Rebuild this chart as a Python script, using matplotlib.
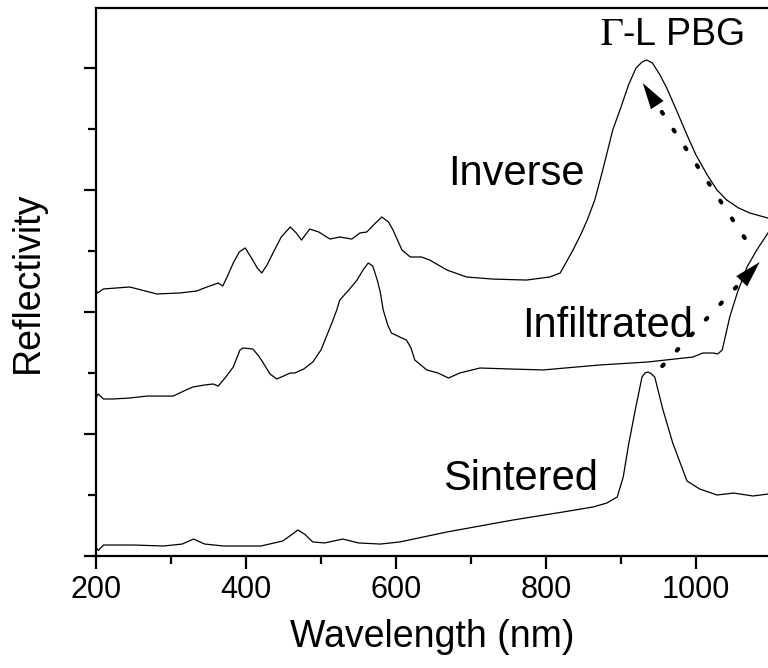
import matplotlib

matplotlib.use("Agg")
import matplotlib.pyplot as plt
from matplotlib.ticker import MultipleLocator

# spectra (wavelength in nm, reflectivity in arb. units)
sintered_nm = [200, 203, 210, 250, 290, 315, 330, 345, 370, 420, 449, 462, 469,
               478, 489, 505, 529, 550, 579, 605, 668, 756, 823, 863, 881, 895,
               903, 910, 919, 928, 932, 936, 940, 945, 956, 969, 988, 1005,
               1028, 1050, 1076, 1096]
sintered_r = [0.74, 0.45, 0.90, 0.90, 0.82, 0.98, 1.39, 0.98, 0.82, 0.82, 1.23,
              1.80, 2.13, 1.80, 1.15, 1.07, 1.39, 1.07, 0.98, 1.15, 1.97, 2.95,
              3.61, 4.02, 4.34, 4.84, 6.48, 9.10, 11.97, 14.67, 15.00, 15.08,
              14.95, 14.67, 11.97, 9.26, 6.15, 5.49, 5.00, 5.16, 4.92, 5.08]

infiltrated_nm = [200, 203, 210, 223, 245, 268, 303, 320, 329, 345, 356, 363,
                  373, 383, 392, 396, 409, 417, 423, 432, 441, 450, 459, 465,
                  477, 489, 500, 508, 515, 521, 525, 537, 548, 556, 563, 569,
                  575, 579, 583, 589, 594, 605, 614, 620, 625, 641, 656, 670,
                  685, 712, 752, 796, 872, 935, 996, 1009, 1023, 1029, 1035,
                  1045, 1055, 1068, 1081, 1096]
infiltrated_r = [12.95, 13.28, 12.87, 12.87, 12.95, 13.11, 13.11, 13.61, 13.85,
                 14.02, 14.10, 13.93, 14.67, 15.49, 16.89, 17.05, 16.97, 16.39,
                 15.82, 14.92, 14.51, 14.75, 15.00, 15.00, 15.33, 15.90, 16.89,
                 18.11, 19.18, 20.16, 20.98, 21.80, 22.62, 23.44, 24.02, 23.77,
                 22.62, 21.64, 20.16, 18.93, 18.28, 17.95, 17.70, 17.05, 16.07,
                 15.25, 15.00, 14.59, 15.00, 15.41, 15.33, 15.25, 15.66, 15.90,
                 16.31, 16.64, 16.64, 16.56, 16.89, 19.59, 21.56, 23.69, 25.08,
                 26.48]

inverse_nm = [200, 202, 210, 245, 281, 312, 334, 348, 363, 369, 376, 383, 391,
              399, 409, 415, 421, 428, 436, 447, 459, 467, 474, 485, 497, 512,
              525, 541, 552, 561, 570, 581, 590, 596, 608, 619, 634, 645, 668,
              694, 729, 774, 805, 819, 836, 846, 855, 865, 875, 889, 900, 910,
              920, 928, 934, 942, 952, 961, 975, 988, 1000, 1015, 1028, 1041,
              1057, 1072, 1096]
inverse_r = [21.80, 21.56, 21.89, 22.05, 21.48, 21.56, 21.72, 22.05, 22.38,
             22.13, 23.03, 24.02, 24.92, 25.25, 24.26, 23.61, 23.20, 23.85,
             24.84, 26.15, 26.97, 26.48, 25.90, 26.80, 26.56, 25.98, 26.15,
             25.98, 26.48, 26.56, 27.13, 27.79, 27.38, 26.72, 25.08, 24.51,
             24.51, 24.26, 23.44, 22.87, 22.70, 22.62, 22.87, 23.20, 25.08,
             26.31, 27.54, 29.18, 31.48, 34.92, 36.80, 38.61, 40.00, 40.49,
             40.66, 40.41, 39.43, 38.36, 36.39, 34.51, 32.87, 31.23, 30.00,
             29.18, 28.52, 28.11, 27.70]

labels = ["Inverse", "Infiltrated", "Sintered"]
label_xy = [(669, 30.4), (768, 17.95), (663, 5.41)]
arrows = [((1065, 26.07), (929, 38.77)), ((955, 15.57), (1085, 24.10))]

plt.rcParams["font.family"] = ["Liberation Sans", "DejaVu Sans"]
plt.rcParams["mathtext.fontset"] = "stix"

fig = plt.figure(figsize=(7.68, 6.68), dpi=100)
ax = fig.add_axes([96 / 768, 1 - 556 / 668, 1 - 96 / 768, 548 / 668])

for xs, ys in [(sintered_nm, sintered_r), (infiltrated_nm, infiltrated_r),
               (inverse_nm, inverse_r)]:
    ax.plot(xs, ys, color="black", lw=0.9)

ax.set_xlim(200, 1096)
ax.set_ylim(0, 44.92)

ax.spines["right"].set_visible(False)
for side in ["left", "bottom", "top"]:
    ax.spines[side].set_linewidth(1.6)

ax.xaxis.set_major_locator(MultipleLocator(200))
ax.xaxis.set_minor_locator(MultipleLocator(100))
ax.yaxis.set_major_locator(MultipleLocator(10))
ax.yaxis.set_minor_locator(MultipleLocator(5))
ax.tick_params(which="both", direction="out", width=1.6, top=False, right=False)
ax.tick_params(which="major", length=9)
ax.tick_params(which="minor", length=6)
ax.tick_params(axis="x", labelsize=22, pad=5)
ax.tick_params(axis="y", labelleft=False)

ax.set_xlabel("Wavelength (nm)", fontsize=27, labelpad=10)
ax.set_ylabel("Reflectivity", fontsize=27, labelpad=27)

for text, (x, y) in zip(labels, label_xy):
    ax.text(x, y, text, fontsize=30, ha="left", va="baseline")
ax.text(872, 41.9, r"$\Gamma$-L PBG", fontsize=27, ha="left", va="baseline")

# dotted shaft drawn as a line, solid head from annotate with an invisible shaft
for (x0, y0), (x1, y1) in arrows:
    ax.plot([x0, x1 - 0.12 * (x1 - x0)], [y0, y1 - 0.12 * (y1 - y0)],
            color="black", lw=3, linestyle=(0, (0.5, 4.6)),
            dash_capstyle="round")
    ax.annotate("", xy=(x1, y1), xytext=(x0, y0),
                arrowprops=dict(arrowstyle="-|>,head_length=0.95,head_width=0.27",
                                lw=0, color="black", mutation_scale=20,
                                shrinkA=0, shrinkB=0))

fig.savefig("out.png", dpi=100)
